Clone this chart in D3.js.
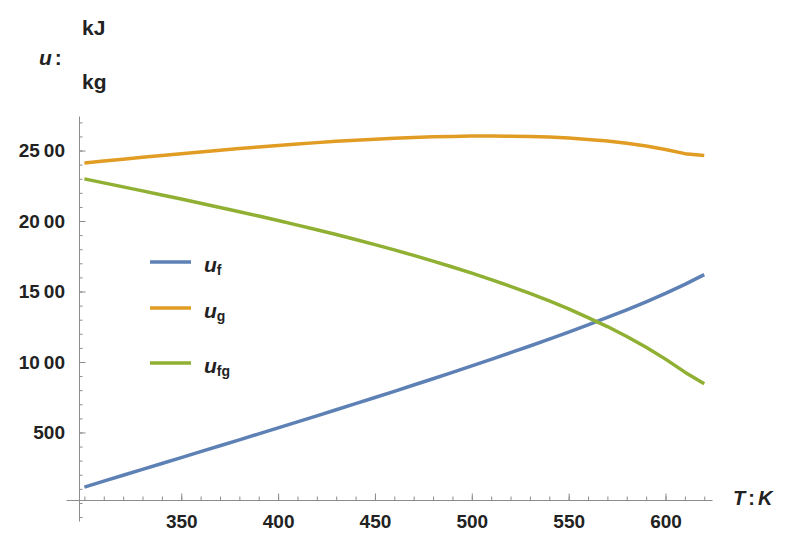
<!DOCTYPE html>
<html>
<head>
<meta charset="utf-8">
<script src="https://cdn.jsdelivr.net/npm/d3@7"></script>
<style>
  body { margin: 0; background: #fff; }
  text { font-family: "Liberation Sans", Arial, sans-serif; }
</style>
</head>
<body>
<script>
// saturated water: internal energy vs temperature
var temps = [300,310,320,330,340,350,360,370,380,390,400,410,420,430,440,450,460,
  470,480,490,500,510,520,530,540,550,560,570,580,590,600,610,620];
var uf = [112.6,154.4,196.2,238.0,279.8,321.8,363.7,405.8,448.0,490.3,532.7,575.3,
  618.1,661.2,704.5,748.1,792.1,836.5,881.2,926.5,972.3,1018.7,1065.9,1113.6,1162.4,
  1212.5,1263.5,1316.0,1370.5,1427.2,1486.7,1550.2,1619.6];
var ug = [2411.5,2425.2,2438.5,2451.7,2464.8,2477.6,2490.1,2502.2,2514.0,2525.4,
  2536.2,2546.4,2556.1,2565.1,2573.2,2580.6,2587.0,2592.6,2597.0,2600.4,2602.5,
  2603.0,2602.2,2599.6,2595.2,2588.7,2578.9,2567.3,2551.6,2531.6,2507.0,2478.0,2464.6];
var ufg = [2298.9,2270.8,2242.3,2213.7,2185.0,2155.8,2126.4,2096.4,2066.0,2035.1,
  2003.5,1971.1,1938.0,1903.9,1868.7,1832.5,1794.9,1756.1,1715.8,1673.9,1630.2,
  1584.3,1536.3,1486.0,1432.8,1376.2,1315.4,1251.3,1181.1,1104.4,1020.3,927.8,845.0];

var xTicks = [350, 400, 450, 500, 550, 600];
var yTicks = [500, 1000, 1500, 2000, 2500];
var seriesNames = [["u", "f"], ["u", "g"], ["u", "fg"]];
var colors = ["#5e81b5", "#e19c24", "#8fb032"];

var w = 790, h = 535;

window.onload = function(){
  var svg = d3.select("body").append("svg")
    .attr("width", w)
    .attr("height", h);

  // scales (axes span the padded plot range)
  var x = d3.scaleLinear().domain([290.5, 624]).range([66, 712]);
  var y = d3.scaleLinear().domain([-128, 2745]).range([521, 116]);

  var axisX = 79;   // pixel where the y axis sits
  var axisY = 500;  // pixel where the x axis sits

  // minor ticks
  var xMinor = d3.range(300, 621, 10);
  var yMinor = d3.range(-100, 2701, 100);

  svg.append("g")
    .attr("transform", "translate(0," + axisY + ")")
    .call(d3.axisBottom(x).tickValues(xMinor).tickSizeInner(-3.5).tickSizeOuter(0).tickFormat(""))
    .call(function(g){
      g.selectAll("path, line").attr("stroke", "#8c8c8c");
    });

  svg.append("g")
    .attr("transform", "translate(0," + axisY + ")")
    .call(d3.axisBottom(x).tickValues(xTicks).tickSizeInner(-6.5).tickSizeOuter(0).tickPadding(15))
    .call(function(g){
      g.select(".domain").remove();
      g.selectAll("line").attr("stroke", "#8c8c8c");
      g.selectAll("text")
        .attr("fill", "#222")
        .attr("font-size", "19px")
        .attr("font-weight", "bold")
        .attr("font-family", "Liberation Sans, Arial, sans-serif");
    });

  svg.append("g")
    .attr("transform", "translate(" + axisX + ",0)")
    .call(d3.axisLeft(y).tickValues(yMinor).tickSizeInner(-3.5).tickSizeOuter(0).tickFormat(""))
    .call(function(g){
      g.selectAll("path, line").attr("stroke", "#8c8c8c");
    });

  svg.append("g")
    .attr("transform", "translate(" + axisX + ",0)")
    .call(d3.axisLeft(y).tickValues(yTicks).tickSizeInner(-6.5).tickSizeOuter(0)
      .tickPadding(14).tickFormat(d3.format("d")))
    .call(function(g){
      g.select(".domain").remove();
      g.selectAll("line").attr("stroke", "#8c8c8c");
      g.selectAll("text")
        .attr("fill", "#222")
        .attr("font-size", "19px")
        .attr("font-weight", "bold")
        .attr("font-family", "Liberation Sans, Arial, sans-serif")
        .each(function(d){
          // split thousands with a small gap, as in the original
          var s = String(d), t = d3.select(this);
          if (s.length > 3) {
            t.text(null);
            t.append("tspan").text(s.slice(0, s.length - 2));
            t.append("tspan").attr("dx", 4).text(s.slice(s.length - 2));
          }
        });
    });

  // series lines
  var series = [uf, ug, ufg];
  var line = d3.line()
    .x(function(d, i){ return x(temps[i]); })
    .y(function(d){ return y(d); });

  svg.selectAll(".series")
    .data(series)
    .enter()
    .append("path")
    .attr("class", "series")
    .attr("d", line)
    .attr("fill", "none")
    .attr("stroke", function(d, i){ return colors[i]; })
    .attr("stroke-width", 3.5)
    .attr("stroke-linejoin", "round");

  // legend
  var legendY = [262, 308, 363];
  var legend = svg.selectAll(".legend")
    .data(seriesNames)
    .enter()
    .append("g")
    .attr("class", "legend")
    .attr("transform", function(d, i){ return "translate(150," + legendY[i] + ")"; });

  legend.append("line")
    .attr("x1", 0).attr("x2", 41)
    .attr("stroke", function(d, i){ return colors[i]; })
    .attr("stroke-width", 3.5);

  var lt = legend.append("text")
    .attr("x", 54)
    .attr("y", 10)
    .attr("fill", "#222")
    .attr("font-weight", "bold");
  lt.append("tspan")
    .attr("font-style", "italic")
    .attr("font-size", "21px")
    .text(function(d){ return d[0]; });
  lt.append("tspan")
    .attr("font-size", "14px")
    .attr("dy", 3)
    .text(function(d){ return d[1]; });

  // axis labels
  var tl = svg.append("text")
    .attr("x", 733)
    .attr("y", 505)
    .attr("fill", "#222")
    .attr("font-size", "20px")
    .attr("font-weight", "bold");
  tl.append("tspan").attr("font-style", "italic").text("T");
  tl.append("tspan").attr("dx", 3).text(":");
  tl.append("tspan").attr("dx", 3).attr("font-style", "italic").text("K");

  var ul = svg.append("text")
    .attr("x", 39)
    .attr("y", 65)
    .attr("fill", "#222")
    .attr("font-size", "21px")
    .attr("font-weight", "bold");
  ul.append("tspan").attr("font-style", "italic").text("u");
  ul.append("tspan").attr("dx", 3).text(":");

  svg.append("text")
    .attr("x", 82)
    .attr("y", 35)
    .attr("fill", "#222")
    .attr("font-size", "21px")
    .attr("font-weight", "bold")
    .text("kJ");

  svg.append("text")
    .attr("x", 82)
    .attr("y", 89)
    .attr("fill", "#222")
    .attr("font-size", "21px")
    .attr("font-weight", "bold")
    .text("kg");
};
</script>
</body>
</html>
